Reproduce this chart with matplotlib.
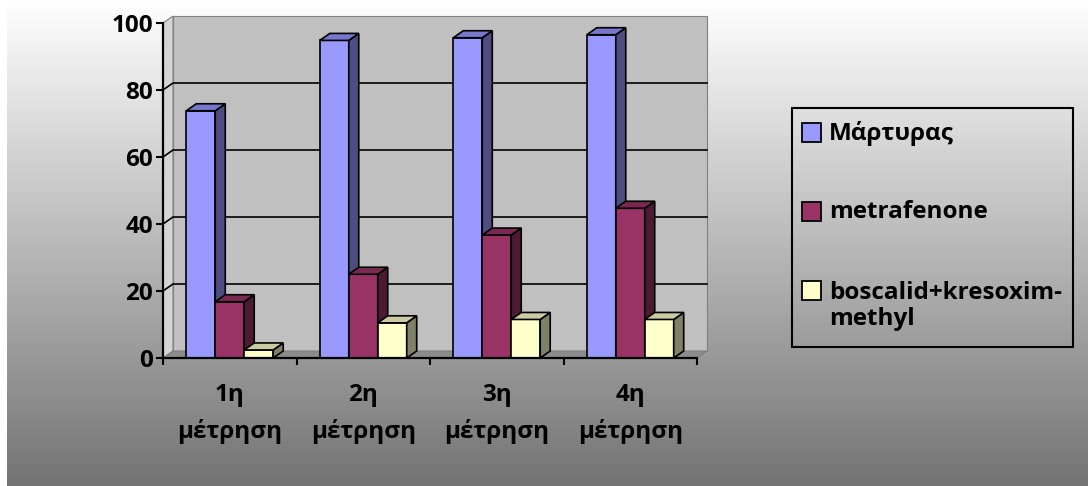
import numpy as np
import matplotlib
matplotlib.use('Agg')
from matplotlib import pyplot as plt
from matplotlib.patches import Rectangle, Polygon

plt.rcParams['font.family'] = ['Open Sans', 'DejaVu Sans']
plt.rcParams['font.weight'] = 'bold'
plt.rcParams['font.size'] = 17.5

# data
categories = ['1η\nμέτρηση', '2η\nμέτρηση', '3η\nμέτρηση', '4η\nμέτρηση']
series_names = ['Μάρτυρας', 'metrafenone', 'boscalid+kresoxim-\nmethyl']
martyras = [73.8, 94.8, 95.6, 96.5]
metrafenone = [16.8, 25, 36.7, 44.7]
boscalid = [2.4, 10.5, 11.5, 11.5]
yticks = [0, 20, 40, 60, 80, 100]

series = [martyras, metrafenone, boscalid]
# front, side, top colours per series
face_cols = ['#9999FF', '#993366', '#FFFFCC']
side_cols = ['#4D4D80', '#4D1A33', '#808066']
top_cols = ['#7777CC', '#7A2952', '#CCCCA3']

W, H = 1088, 486
fig = plt.figure(figsize=(W / 100, H / 100), dpi=100)
fig.patch.set_facecolor('white')


def fx(px):
    return px / W


def fy(py):
    return 1 - py / H


# gradient background
bg = fig.add_axes([fx(7), 0, 1 - fx(7), 1], zorder=-5)
grad = np.linspace(1.0, 0.455, 256).reshape(-1, 1)
bg.imshow(np.dstack([grad, grad, grad]), aspect='auto', extent=[0, 1, 0, 1])
bg.set_axis_off()

# plot area (front plane)
left, right, bottom, top = 163, 697, 358, 23
ax = fig.add_axes([fx(left), fy(bottom), fx(right - left), (bottom - top) / H])
ax.set_xlim(0, 4)
ax.set_ylim(0, 100)
ax.patch.set_visible(False)

sx = (right - left) / 4.0
sy = (bottom - top) / 100.0
dx = 10 / sx   # depth offset in data units
dy = 7 / sy

# walls and floor
ax.add_patch(Rectangle((dx, dy), 4, 100, fc='#C0C0C0', ec='#808080', lw=0.8,
                       clip_on=False, zorder=1))
ax.add_patch(Polygon([(0, 0), (dx, dy), (dx, 100 + dy), (0, 100)], fc='#D4D4D4',
                     ec='#808080', lw=0.8, clip_on=False, zorder=1))
ax.add_patch(Polygon([(0, 0), (4, 0), (4 + dx, dy), (dx, dy)], fc='#8C8C8C',
                     ec='#808080', lw=0.8, clip_on=False, zorder=1.5))

for g in yticks[1:-1]:
    ax.plot([0, dx, 4 + dx], [g, g + dy, g + dy], color='black', lw=1.2,
            clip_on=False, zorder=2)

# 3d columns
w = 0.217
for k, vals in enumerate(series):
    for i, v in enumerate(vals):
        x0 = i + 0.5 + (k - 1.5) * w
        x1 = x0 + w
        kw = dict(ec='black', lw=1.2, clip_on=False, zorder=3, joinstyle='miter')
        ax.add_patch(Rectangle((x0, 0), w, v, fc=face_cols[k], **kw))
        ax.add_patch(Polygon([(x1, 0), (x1 + dx, dy), (x1 + dx, v + dy), (x1, v)],
                             fc=side_cols[k], **kw))
        ax.add_patch(Polygon([(x0, v), (x1, v), (x1 + dx, v + dy), (x0 + dx, v + dy)],
                             fc=top_cols[k], **kw))

# axes
for s in ['top', 'right']:
    ax.spines[s].set_visible(False)
for s in ['left', 'bottom']:
    ax.spines[s].set_linewidth(1.6)
    ax.spines[s].set_zorder(4)

ax.set_yticks(yticks)
ax.tick_params(axis='y', direction='out', length=5, width=1.5, pad=2)
ax.set_xticks([0.5, 1.5, 2.5, 3.5])
ax.set_xticklabels(categories, linespacing=1.65)
ax.set_xticks([0, 1, 2, 3, 4], minor=True)
ax.tick_params(axis='x', which='major', length=0, pad=18)
ax.tick_params(axis='x', which='minor', direction='out', length=5, width=1.5)

# legend
fig.add_artist(Rectangle((fx(792), fy(347)), fx(1073 - 792), (347 - 108) / H,
                         transform=fig.transFigure, fill=False, ec='black', lw=1.5))
swatch_y = [133, 212, 290]
label_y = [133, 212, 306]
for k, name in enumerate(series_names):
    fig.add_artist(Rectangle((fx(802), fy(swatch_y[k] + 9.5)), fx(19), 19 / H,
                             transform=fig.transFigure, fc=face_cols[k],
                             ec='black', lw=1.3))
    fig.text(fx(829), fy(label_y[k]), name, ha='left', va='center',
             linespacing=1.15)

fig.savefig('out.png', dpi=100)
